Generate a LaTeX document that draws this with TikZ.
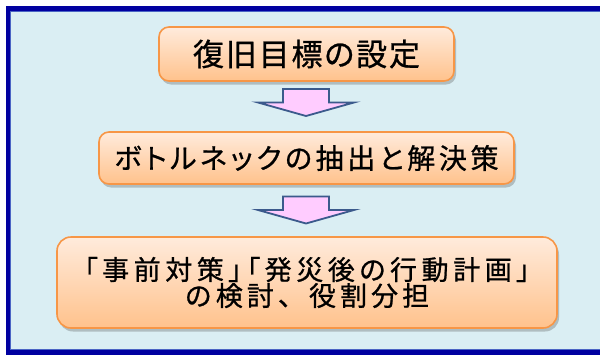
\documentclass[tikz,border=0pt]{standalone}
\usepackage{fontspec}
\newfontfamily\jpa[RawFeature=+palt,LetterSpace=6,FakeBold=0.8]{Noto Sans CJK JP}
\newfontfamily\jpb[RawFeature=+palt,LetterSpace=13,FakeBold=0.8]{Noto Sans CJK JP}
\newfontfamily\jpc[RawFeature=+palt,LetterSpace=17,FakeBold=0.8]{Noto Sans CJK JP}
\newfontfamily\jpd[LetterSpace=15,FakeBold=0.8]{Noto Sans CJK JP}
\usetikzlibrary{shadows}
\definecolor{bgblue}{HTML}{DAEEF3}
\definecolor{frameblue}{HTML}{0000A0}
\definecolor{frameinner}{HTML}{4A64C4}
\definecolor{boxtop}{HTML}{FFEBDC}
\definecolor{boxbot}{HTML}{FFC28C}
\definecolor{boxedge}{HTML}{F79646}
\definecolor{arrfill}{HTML}{FFCCFF}
\definecolor{arredge}{HTML}{3B5A8C}
\tikzset{
  stepbox/.style={draw=boxedge, line width=1.6pt, rounded corners=10pt,
    top color=boxtop, bottom color=boxbot, inner sep=0pt, text=black,
    drop shadow={shadow xshift=2pt, shadow yshift=-3.5pt, opacity=0.3, fill=black!70}},
  blockarrow/.style={draw=arredge, fill=arrfill, line width=1.8pt, line join=miter}
}
\begin{document}
\begin{tikzpicture}[x=1pt,y=1pt]
\useasboundingbox (0,0) rectangle (600,-354);
% frame
\fill[bgblue] (8,-8.5) rectangle (606,-352.5);
\draw[frameblue, line width=5pt] (8,-8.5) rectangle (606,-352.5);
\draw[frameinner, line width=0.9pt] (10.9,-11.4) rectangle (606,-349.6);
% boxes
\node[stepbox, minimum width=295pt, minimum height=54pt] (b1) at (306.5,-54)
  {\jpa\fontsize{31}{36}\selectfont 復旧目標の設定};
\node[stepbox, minimum width=415pt, minimum height=52pt] (b2) at (306.5,-158)
  {\jpb\fontsize{28}{34}\selectfont ボトルネックの抽出と解決策};
\node[stepbox, rounded corners=14pt, minimum width=500pt, minimum height=91pt, align=center] (b3) at (307,-282.5)
  {\jpc\fontsize{27}{36}\selectfont 「事前対策」「発災後の行動計画」\\ \jpd\fontsize{27}{36}\selectfont の検討、役割分担};
% arrows
\coordinate (a1) at (306,-102.5);
\coordinate (a2) at (306,-210);
\foreach \a in {a1,a2}{
  \draw[blockarrow] ([shift={(-23,13.5)}]\a) -- ([shift={(23,13.5)}]\a)
    -- ([shift={(23,0)}]\a) -- ([shift={(48,0)}]\a) -- ([shift={(0,-13.5)}]\a)
    -- ([shift={(-48,0)}]\a) -- ([shift={(-23,0)}]\a) -- cycle;
}
\end{tikzpicture}
\end{document}
